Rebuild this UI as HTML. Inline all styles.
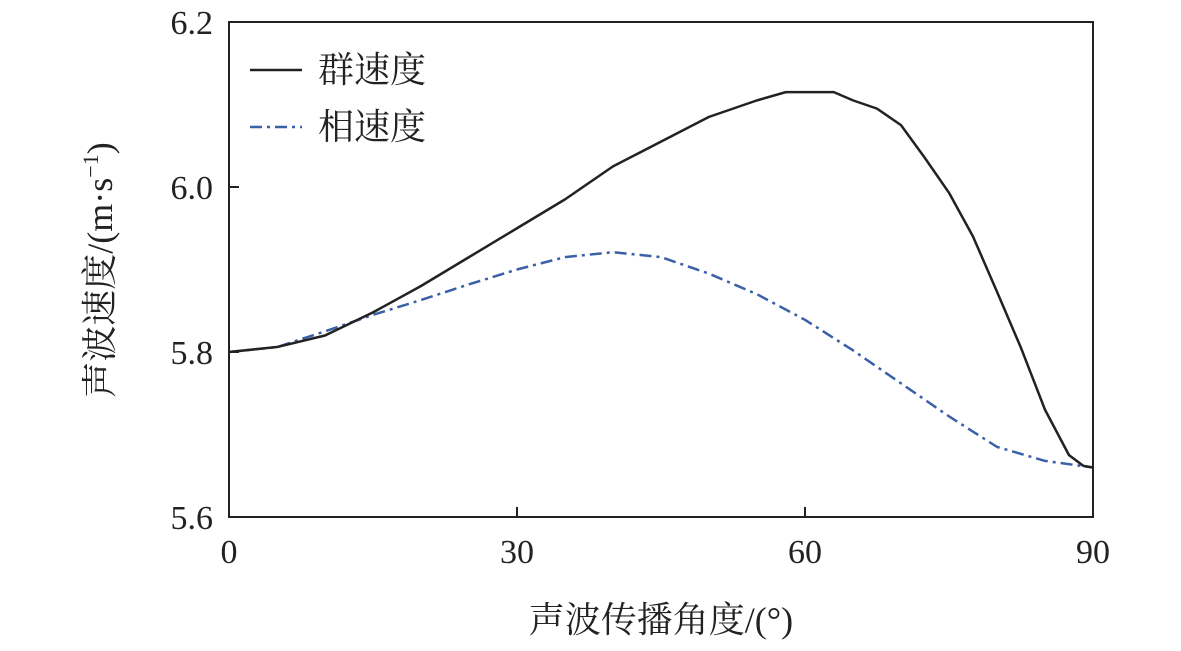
<!DOCTYPE html>
<html><head><meta charset="utf-8">
<style>
body{margin:0;background:#fff;}
svg text{font-family:"Liberation Serif","Noto Serif CJK SC",serif;fill:#222;}
</style></head>
<body>
<svg id="chart" width="1181" height="646">
<rect x="229" y="22" width="864" height="495" fill="none" stroke="#222" stroke-width="2"/>
<g id="ticks"></g>
<g id="series"></g>
<line x1="250" y1="70" x2="302" y2="70" stroke="#222" stroke-width="2.5"/>
<text x="318" y="82" font-size="36">群速度</text>
<line x1="250" y1="127" x2="302" y2="127" stroke="#3a60a8" stroke-width="2.5" stroke-dasharray="12,5,3,5"/>
<text x="318" y="139" font-size="36">相速度</text>
<text x="661" y="632" font-size="36" text-anchor="middle">声波传播角度/(°)</text>
<text transform="translate(112,270) rotate(-90)" font-size="36" text-anchor="middle">声波速度/(m·s<tspan font-size="22" dy="-14">−1</tspan><tspan dy="14">)</tspan></text>
</svg>
<script>
const xTicks=[0,30,60,90];
const yTicks=[5.6,5.8,6.0,6.2];
const yTickLabels=["5.6","5.8","6.0","6.2"];
const groupAngles=[0,5,10,15,20,25,30,35,40,45,50,55,58,63,65,67.5,70,72.5,75,77.5,80,82.5,85,87.5,89,90];
const groupSpeed=[5.80,5.806,5.82,5.848,5.88,5.915,5.95,5.985,6.025,6.055,6.085,6.105,6.115,6.115,6.105,6.095,6.075,6.035,5.993,5.94,5.873,5.805,5.73,5.675,5.662,5.66];
const phaseAngles=[0,5,10,15,20,25,30,35,40,45,50,55,60,65,70,75,80,85,90];
const phaseSpeed=[5.80,5.806,5.825,5.845,5.863,5.882,5.90,5.915,5.921,5.915,5.895,5.87,5.839,5.802,5.762,5.722,5.685,5.668,5.66];
const X=v=>229+v/90*864, Y=v=>517-(v-5.6)/0.6*495;
const ns="http://www.w3.org/2000/svg";
const tk=document.getElementById('ticks'), sr=document.getElementById('series');
xTicks.forEach(t=>{
 const l=document.createElementNS(ns,'line');l.setAttribute('x1',X(t));l.setAttribute('x2',X(t));l.setAttribute('y1',517);l.setAttribute('y2',507);l.setAttribute('stroke','#222');l.setAttribute('stroke-width',2);
 
 tk.appendChild(l);
 const s=document.createElementNS(ns,'text');s.setAttribute('x',X(t));s.setAttribute('y',563);s.setAttribute('font-size',34);s.setAttribute('text-anchor','middle');s.textContent=t;
 
 tk.appendChild(s);
});
yTicks.forEach((t,i)=>{
 const l=document.createElementNS(ns,'line');l.setAttribute('x1',229);l.setAttribute('x2',239);l.setAttribute('y1',Y(t));l.setAttribute('y2',Y(t));l.setAttribute('stroke','#222');l.setAttribute('stroke-width',2);
 
 tk.appendChild(l);
 const s=document.createElementNS(ns,'text');s.setAttribute('x',213);s.setAttribute('y',Y(t)+12);s.setAttribute('font-size',34);s.setAttribute('text-anchor','end');s.textContent=yTickLabels[i];
 
 tk.appendChild(s);
});
function line(xs,ys,color,dash,name){
 const p=document.createElementNS(ns,'polyline');
 p.setAttribute('points',xs.map((a,i)=>X(a)+','+Y(ys[i])).join(' '));
 p.setAttribute('fill','none');p.setAttribute('stroke',color);p.setAttribute('stroke-width',2.5);
 p.setAttribute('stroke-linejoin','round');
 if(dash)p.setAttribute('stroke-dasharray',dash);
 
 
 sr.appendChild(p);
}
line(phaseAngles,phaseSpeed,'#3a60a8','12,5,3,5','phase-velocity-line');
line(groupAngles,groupSpeed,'#222',null,'group-velocity-line');
</script>
</body></html>
